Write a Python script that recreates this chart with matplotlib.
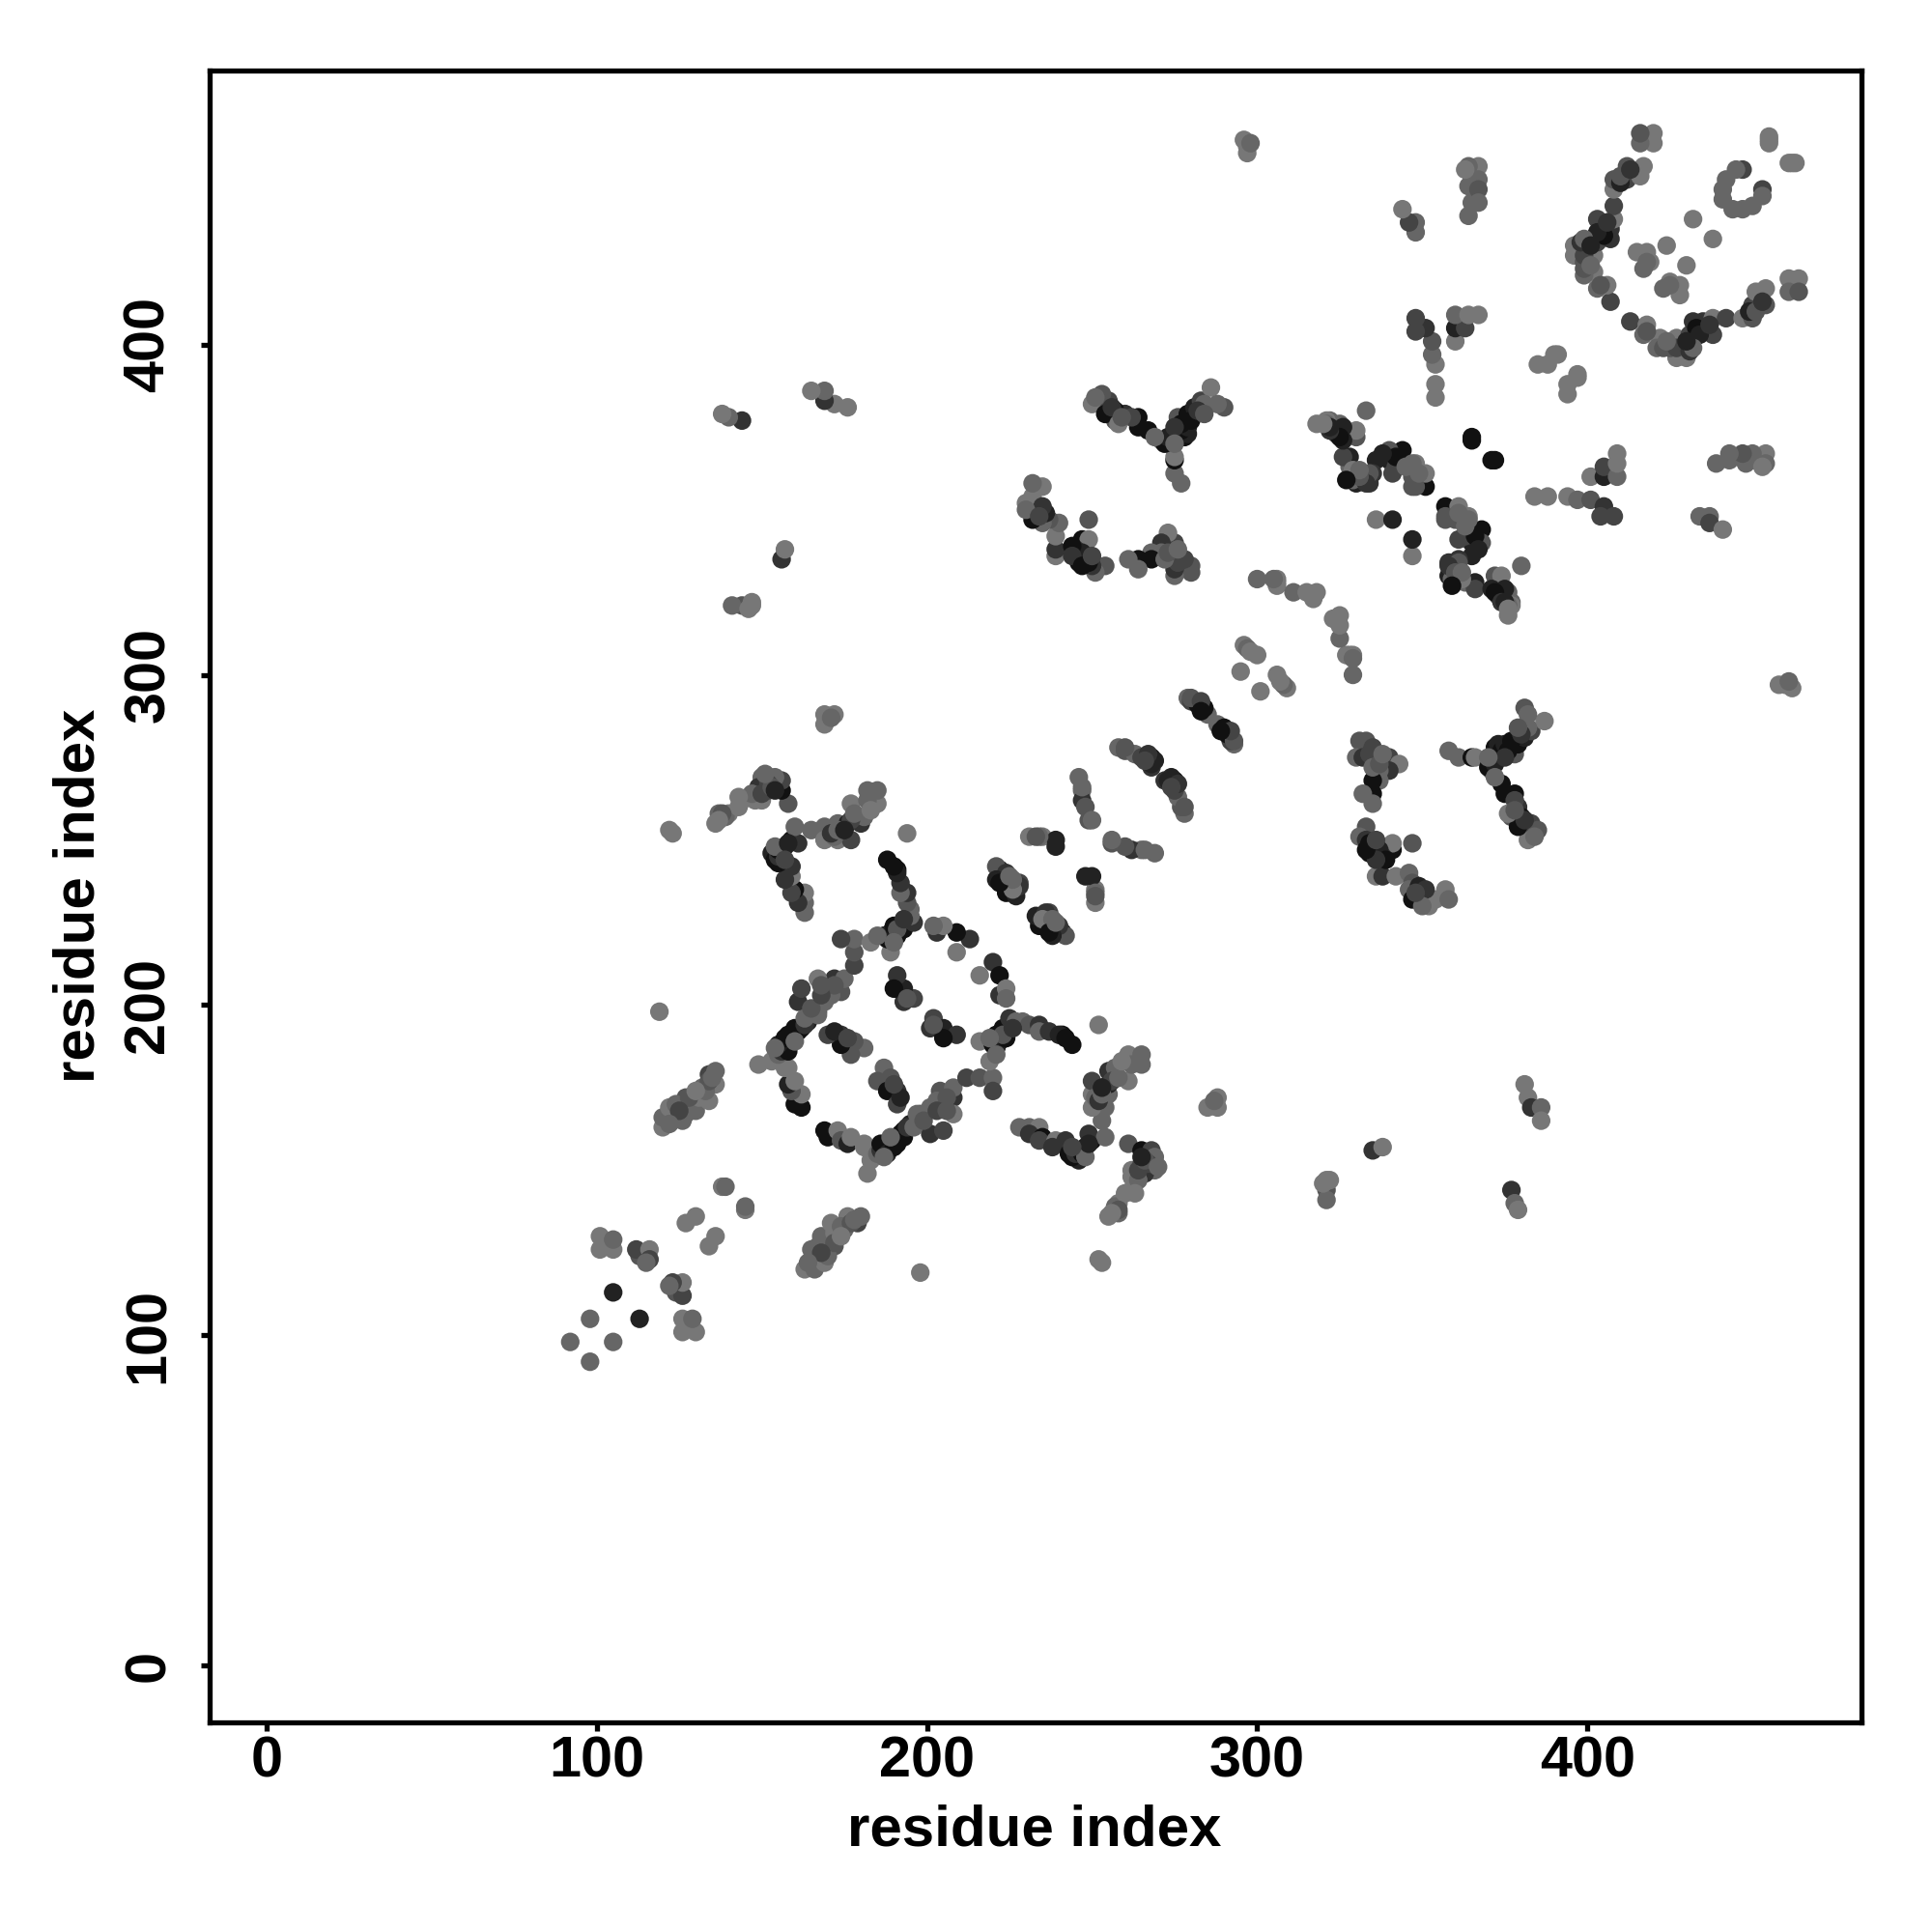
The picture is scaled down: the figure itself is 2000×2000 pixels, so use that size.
import numpy as np
import matplotlib
matplotlib.use("Agg")
import matplotlib.pyplot as plt

plt.rcParams['font.family'] = ['Liberation Sans', 'DejaVu Sans']

# contact pairs: residue i, residue j, grey score (0 black .. 15 white)
i_nterm = [98,105,113,126,130,126,129,124,126,126,123,122,134,136,145,145,198]
j_nterm = [92,98,105,101,101,105,105,113,112,116,116,115,127,130,138,139,119]
g_nterm = [6,6,2,7,7,7,6,5,4,7,4,6,7,7,7,6,7]

i_a = [163,166,166,165,167,169,168,172,172,171,175,176,179,180,170,172,174,177,168,164,174,178]
j_a = [120,120,122,126,127,122,130,127,131,134,132,136,134,136,124,128,133,134,125,122,130,135]
g_a = [7,6,6,6,6,7,6,5,7,7,6,7,4,6,6,5,6,5,4,6,7,6]

i_arm = [169,170,173,174,176,177,181,181]
j_arm = [162,160,162,159,158,160,158,157]
g_arm = [1,1,7,5,2,7,7,7]

i_chain = [182,183,185,186,187,188,189,190,191,192,193,195,197,198,199,201,201,204,205,205,208,208,208,212,216,220,220]
j_chain = [149,153,155,156,157,157,158,159,160,161,162,164,165,167,167,169,161,174,162,170,172,175,167,178,178,178,174]
g_chain = [7,7,6,3,1,1,1,1,1,1,1,2,3,3,6,6,3,5,4,7,3,6,7,4,5,6,4]

i_chain2 = [186,188,190,191,193,194,196,197,189,199,187,203,206,203,206]
j_chain2 = [158,155,157,158,160,163,163,167,160,165,154,171,172,168,168]
g_chain2 = [1,2,1,1,1,3,6,6,6,5,6,6,5,4,5]

i_inner = [202,205,201,205,209,205,202,187,185,189,191,188,191,192,190]
j_inner = [196,193,193,191,191,190,194,181,177,178,174,174,170,172,176]
g_inner = [4,2,3,2,3,1,5,6,5,5,3,1,4,2,4]

i_up = [220,222,216,222,224,224,216,219,220,221,223,225,227,229,231,234,234,237,241,240,242,244,221,222,224,223,221,226,219]
j_up = [213,209,209,203,205,202,189,183,188,191,193,196,195,195,194,194,192,192,191,191,190,188,187,189,190,191,185,193,190]
g_up = [3,1,7,3,7,6,7,7,1,1,1,3,6,6,5,3,6,3,1,2,1,1,1,2,1,5,6,3,6]

i_mid = [241,238,234,237,233,236,237,241,242,235,238,251,251,248,250,251,240,238,237,239,251]
j_mid = [222,222,224,228,227,228,223,222,221,226,226,231,235,239,239,234,224,221,222,225,233]
g_mid = [1,2,1,4,2,3,1,2,5,7,6,7,7,2,2,6,3,2,1,6,5]

i_right = [228,231,234,231,235,234,239,238,242,243,246,246,248,250,249,254,253,254,250,250,250,255,255,255,257,261,261,262,265,265,252]
j_right = [163,163,163,161,160,159,159,157,159,155,153,156,157,159,161,160,165,169,169,173,177,173,176,180,181,177,185,182,185,182,194]
g_right = [6,6,7,3,1,4,7,3,3,1,2,1,1,1,3,6,6,6,7,7,4,6,2,3,6,7,7,6,6,6,7]

i_right2 = [244,245,247,248,249,244,251,252,253,256,258,253,259]
j_right2 = [154,155,155,154,158,157,172,171,173,177,178,175,183]
g_right2 = [1,3,1,6,2,4,6,3,6,4,6,2,7]

i_low = [261,265,268,269,269,266,262,262,265,262,258,258,255,257,252,253,268,264,260,263,258,256,264,267,266,270,265]
j_low = [158,156,156,154,150,149,150,144,152,148,140,137,136,139,123,122,152,147,143,143,138,137,150,152,153,151,154]
g_low = [5,1,4,6,6,3,7,7,5,7,7,6,7,6,7,7,6,6,7,7,5,7,4,4,5,6,2]

i_far = [288,285,288,287,321,321,321,320,322,335,338,377,378,379,381,382,383,386,386]
j_far = [172,169,169,171,147,144,141,146,147,156,157,144,140,138,176,172,169,169,165]
g_far = [7,7,7,6,7,5,6,7,7,3,7,3,6,7,7,7,3,6,7]

i_c = [331,333,330,335,332,336,340,343,340,337,337,335,335,332,335,333,331,333,336,341,341,347,334,338,336,338,342,346,347,346,349,347,352,352,354,357,358]
j_c = [280,280,275,278,275,275,275,273,271,271,268,268,264,264,261,254,251,250,249,247,249,249,246,245,239,239,239,240,237,235,236,232,232,230,232,235,232]
g_c = [5,5,6,4,3,5,4,7,3,6,6,1,1,6,6,5,6,3,1,1,7,5,1,3,7,3,7,6,5,6,2,1,7,7,7,7,6]

i_c2 = [334,337,339,336,333,336,349,351,350,348,334,335,337,338]
j_c2 = [249,247,244,244,247,250,233,235,230,234,276,272,273,276]
g_c2 = [1,2,1,3,1,4,1,3,6,4,4,6,5,6]

i_y = [358,361,365,366,371,372,371,373,378,379,381,383,387,381,382,382,374,375,378,379,377,380,382,383,385,379,373]
j_y = [277,275,275,275,274,278,271,275,276,279,281,283,286,290,288,284,267,264,264,260,257,257,250,255,253,254,279]
g_y = [6,6,1,7,1,1,6,1,5,1,2,4,7,5,6,6,1,1,1,3,5,1,7,4,5,1,2]

i_y2 = [370,372,374,375,376,377,380,375,370,379,372,378,376,381,384,378]
j_y2 = [272,273,277,279,277,280,282,275,275,284,269,262,258,256,251,259]
g_y2 = [1,2,1,2,1,1,3,3,6,5,6,4,7,3,6,5]

i_ctr = [357,357,361,364,360,365,368,365,368,361,365,361,358,358,359,363,366,366,372,374,371,373,376,377,376,380,347,347,372,371]
j_ctr = [351,347,351,348,347,344,344,340,340,341,336,335,334,330,329,328,328,326,330,330,326,324,325,322,318,333,336,341,365,365]
g_ctr = [1,5,7,7,5,1,1,2,5,4,2,3,3,2,6,6,2,4,5,7,2,3,6,6,7,6,7,2,1,1]

i_ctr2 = [377,376,375,361,364,357,362,358,360,362,359,372,374,375,363,366,367,361,363,376]
j_ctr2 = [321,321,326,334,347,348,329,333,331,331,327,325,322,322,342,342,338,349,345,320]
g_ctr2 = [7,6,2,5,6,5,7,3,5,6,1,1,3,2,4,1,2,6,6,7]

i_r = [384,388,394,397,401,401,405,404,408,405,405,409,409,409,394,394,397,397]
j_r = [354,354,354,353,360,353,351,348,348,360,363,360,364,367,385,388,390,391]
g_r = [7,7,7,6,7,5,3,4,4,2,4,6,7,7,7,7,7,7]

i_d1 = [329,329,327,325,325,325,323,328,329]
j_d1 = [300,306,306,311,315,318,317,306,305]
g_d1 = [6,7,7,6,7,7,7,7,6]

i_d2 = [309,308,306,301,307]
j_d2 = [296,297,300,295,298]
g_d2 = [7,6,7,7,7]

i_d3 = [292,291,290,289,293,288,292,291,290,293,292,289]
j_d3 = [281,283,283,284,279,285,280,282,284,280,283,283]
g_d3 = [5,1,1,3,6,6,4,1,1,5,4,1]

i_d4 = [278,277,276,275,274,275,274,272,269,265,262,260,256,256,266,275,273,276,274,278]
j_d4 = [258,260,263,265,267,268,269,268,246,247,247,248,249,250,247,267,268,267,266,260]
g_d4 = [6,5,6,4,2,1,2,3,6,6,3,5,5,6,6,1,2,3,4,5]

i_arc = [413,418,417,422,421,423,427,427,430,431,431,432,435,435,438,438,442,447,450,450,451,454,454,461,464,461,464]
j_arc = [407,406,403,402,399,399,402,396,396,401,403,407,407,404,403,408,408,408,408,412,416,417,412,420,420,416,416]
g_arc = [4,7,6,7,6,5,7,7,7,3,4,3,3,3,4,7,4,7,5,4,7,7,5,7,7,6,5]

i_arc2 = [418,425,427,431,433,434,437,424,432,430,449,451,453]
j_arc2 = [404,399,399,398,405,403,406,401,399,401,410,410,413]
g_arc2 = [5,5,4,3,1,2,3,6,6,2,2,5,3]

i_int = [428,428,425,423,430,425,438,447,450,453,453,462,461,463,444]
j_int = [415,418,419,417,424,418,432,441,442,447,445,455,455,455,441]
g_int = [7,7,7,6,7,6,7,6,6,4,6,7,7,7,6]

i_end = [458,460,462,461,434,437,437,441,439,443,446,448,450,452,454,454,450,448,453,447,443]
j_end = [297,297,296,298,348,348,346,344,364,365,366,366,365,366,367,364,367,364,363,367,367]
g_end = [7,7,7,6,6,6,4,7,6,6,6,5,5,6,7,6,6,6,7,5,6]

tick_values = [0, 100, 200, 300, 400]
axis_label = "residue index"

res_i = np.array(i_nterm+i_a+i_arm+i_chain+i_chain2+i_inner+i_up+i_mid+i_right+i_right2+i_low+i_far+i_c+i_c2+i_y+i_y2+i_ctr+i_ctr2+i_r+i_d1+i_d2+i_d3+i_d4+i_arc+i_arc2+i_int+i_end)
res_j = np.array(j_nterm+j_a+j_arm+j_chain+j_chain2+j_inner+j_up+j_mid+j_right+j_right2+j_low+j_far+j_c+j_c2+j_y+j_y2+j_ctr+j_ctr2+j_r+j_d1+j_d2+j_d3+j_d4+j_arc+j_arc2+j_int+j_end)
grey = np.array(g_nterm+g_a+g_arm+g_chain+g_chain2+g_inner+g_up+g_mid+g_right+g_right2+g_low+g_far+g_c+g_c2+g_y+g_y2+g_ctr+g_ctr2+g_r+g_d1+g_d2+g_d3+g_d4+g_arc+g_arc2+g_int+g_end)

fig = plt.figure(figsize=(10, 10), dpi=200)
ax = fig.add_axes([217/2000, 1-1783/2000, (1927-217)/2000, (1783-73)/2000])
ax.scatter(np.concatenate([res_i, res_j]), np.concatenate([res_j, res_i]),
           c=np.concatenate([grey, grey]), cmap='gray', vmin=0, vmax=15,
           s=48, linewidths=0)
ax.set_xlim(-17.2, 483)
ax.set_ylim(-17.2, 483)
for s in ax.spines.values():
    s.set_linewidth(1.9)
ax.set_xticks(tick_values)
ax.set_yticks(tick_values)
ax.tick_params(length=3.2, width=1.9, labelsize=21.4)
ax.tick_params(axis='x', pad=1.8)
ax.tick_params(axis='y', pad=9.5)
for t in ax.get_xticklabels():
    t.set_fontweight('bold')
for t in ax.get_yticklabels():
    t.set_fontweight('bold')
    t.set_rotation(90)
    t.set_va('center')
fig.text(1071/2000, 1-1895/2000, axis_label, fontsize=21.6, fontweight='bold', ha='center', va='center')
fig.text(82/2000, 1-927/2000, axis_label, fontsize=21.6, fontweight='bold', ha='center', va='center', rotation=90)
fig.savefig('out.png', dpi=200)
